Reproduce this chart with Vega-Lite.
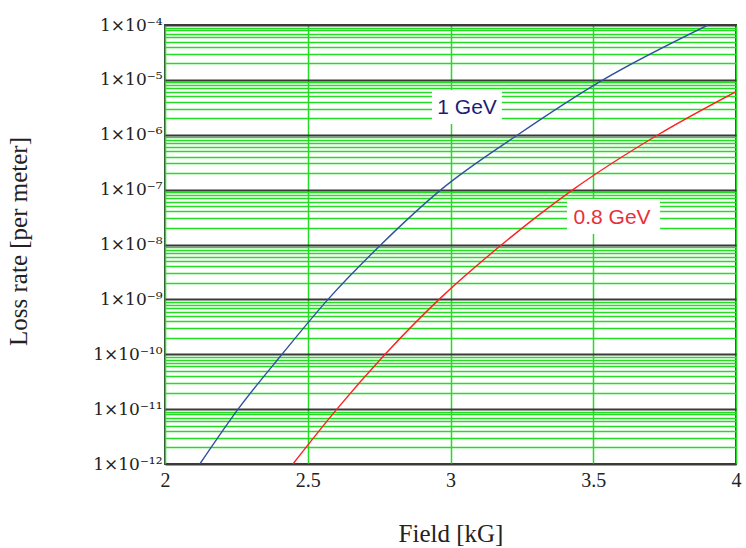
{
  "$schema": "https://vega.github.io/schema/vega-lite/v6.json",
  "width": 571,
  "height": 439,
  "autosize": {"type": "none"},
  "padding": {"left": 165, "top": 25, "right": 10, "bottom": 84},
  "background": "white",
  "view": {"stroke": "#3a3a3a", "strokeWidth": 2},
  "datasets": {
    "curves": [
      {"series": "1 GeV", "field": 2.122, "rate": 1e-12},
      {"series": "1 GeV", "field": 2.256, "rate": 1e-11},
      {"series": "1 GeV", "field": 2.41, "rate": 1e-10},
      {"series": "1 GeV", "field": 2.571, "rate": 1e-9},
      {"series": "1 GeV", "field": 2.757, "rate": 1e-8},
      {"series": "1 GeV", "field": 2.967, "rate": 1e-7},
      {"series": "1 GeV", "field": 3.236, "rate": 1e-6},
      {"series": "1 GeV", "field": 3.534, "rate": 1e-5},
      {"series": "1 GeV", "field": 3.902, "rate": 1e-4},
      {"series": "0.8 GeV", "field": 2.448, "rate": 1e-12},
      {"series": "0.8 GeV", "field": 2.602, "rate": 1e-11},
      {"series": "0.8 GeV", "field": 2.771, "rate": 1e-10},
      {"series": "0.8 GeV", "field": 2.96, "rate": 1e-9},
      {"series": "0.8 GeV", "field": 3.18, "rate": 1e-8},
      {"series": "0.8 GeV", "field": 3.429, "rate": 1e-7},
      {"series": "0.8 GeV", "field": 3.727, "rate": 1e-6},
      {"series": "0.8 GeV", "field": 4.0, "rate": 6.1e-6}
    ],
    "labels": [
      {"label": "1 GeV", "x1": 2.935, "x2": 3.18, "y1": 6.55e-6, "y2": 1.57e-6, "tx": 3.058, "ty": 3.07e-6},
      {"label": "0.8 GeV", "x1": 3.408, "x2": 3.734, "y1": 6.75e-8, "y2": 1.55e-8, "tx": 3.566, "ty": 3.04e-8}
    ]
  },
  "layer": [
    {
      "data": {"name": "curves"},
      "mark": {"type": "line", "interpolate": "monotone", "strokeWidth": 1.4, "clip": true},
      "encoding": {
        "x": {
          "field": "field", "type": "quantitative",
          "scale": {"domain": [2, 4], "nice": false, "zero": false},
          "axis": {
            "values": [2, 2.5, 3, 3.5, 4],
            "labelExpr": "datum.value + ''",
            "grid": true, "gridColor": "#22dd22", "gridWidth": 1.5, "gridOpacity": 1,
            "ticks": false, "domain": false,
            "labelFont": "Liberation Serif", "labelFontSize": 20, "labelColor": "#222",
            "labelPadding": 6, "labelOverlap": false, "labelBound": false, "labelFlush": false,
            "title": "Field [kG]", "titleFont": "Liberation Serif", "titleFontSize": 25,
            "titleFontWeight": "normal", "titleColor": "#222",
            "titleY": 69, "titleBaseline": "middle", "titleX": 285.5, "titleAlign": "center"
          }
        },
        "y": {
          "field": "rate", "type": "quantitative",
          "scale": {"type": "log", "domain": [1e-12, 1e-4], "nice": false},
          "axis": {
            "values": [1e-12, 2e-12, 3e-12, 4e-12, 5e-12, 6e-12, 7e-12, 8e-12, 9e-12,
                       1e-11, 2e-11, 3e-11, 4e-11, 5e-11, 6e-11, 7e-11, 8e-11, 9e-11,
                       1e-10, 2e-10, 3e-10, 4e-10, 5e-10, 6e-10, 7e-10, 8e-10, 9e-10,
                       1e-9, 2e-9, 3e-9, 4e-9, 5e-9, 6e-9, 7e-9, 8e-9, 9e-9,
                       1e-8, 2e-8, 3e-8, 4e-8, 5e-8, 6e-8, 7e-8, 8e-8, 9e-8,
                       1e-7, 2e-7, 3e-7, 4e-7, 5e-7, 6e-7, 7e-7, 8e-7, 9e-7,
                       1e-6, 2e-6, 3e-6, 4e-6, 5e-6, 6e-6, 7e-6, 8e-6, 9e-6,
                       1e-5, 2e-5, 3e-5, 4e-5, 5e-5, 6e-5, 7e-5, 8e-5, 9e-5, 1e-4],
            "labelExpr": "abs(log(datum.value)/LN10 - round(log(datum.value)/LN10)) < 0.001 ? '1×10' + ['⁻¹²','⁻¹¹','⁻¹⁰','⁻⁹','⁻⁸','⁻⁷','⁻⁶','⁻⁵','⁻⁴'][round(log(datum.value)/LN10) + 12] : ''",
            "grid": true,
            "gridColor": {"condition": {"test": "abs(log(datum.value)/LN10 - round(log(datum.value)/LN10)) < 0.001", "value": "#3a3a3a"}, "value": "#22dd22"},
            "gridWidth": {"condition": {"test": "abs(log(datum.value)/LN10 - round(log(datum.value)/LN10)) < 0.001", "value": 2}, "value": 1.5},
            "gridOpacity": 1,
            "ticks": false, "domain": false,
            "labelFont": "DejaVu Serif", "labelFontSize": 17, "labelColor": "#222",
            "labelPadding": 3, "labelOverlap": false, "labelBound": false, "labelFlush": false,
            "title": "Loss rate [per meter]", "titleFont": "Liberation Serif", "titleFontSize": 25,
            "titleFontWeight": "normal", "titleColor": "#222",
            "titleX": -147, "titleY": 216, "titleAngle": -90, "titleAlign": "center", "titleBaseline": "middle"
          }
        },
        "color": {
          "field": "series", "type": "nominal",
          "scale": {"domain": ["1 GeV", "0.8 GeV"], "range": ["#3050a0", "#ff2020"]},
          "legend": null
        }
      }
    },
    {
      "data": {"name": "labels"},
      "mark": {"type": "rect", "fill": "white"},
      "encoding": {
        "x": {"field": "x1", "type": "quantitative"},
        "x2": {"field": "x2"},
        "y": {"field": "y1", "type": "quantitative"},
        "y2": {"field": "y2"}
      }
    },
    {
      "data": {"name": "labels"},
      "mark": {"type": "text", "font": "Liberation Sans", "fontSize": 21, "baseline": "middle", "align": "center"},
      "encoding": {
        "x": {"field": "tx", "type": "quantitative"},
        "y": {"field": "ty", "type": "quantitative"},
        "text": {"field": "label"},
        "color": {
          "field": "label", "type": "nominal",
          "scale": {"domain": ["1 GeV", "0.8 GeV"], "range": ["#1c1c78", "#e8303a"]},
          "legend": null
        }
      }
    }
  ],
  "resolve": {"scale": {"color": "independent"}}
}
